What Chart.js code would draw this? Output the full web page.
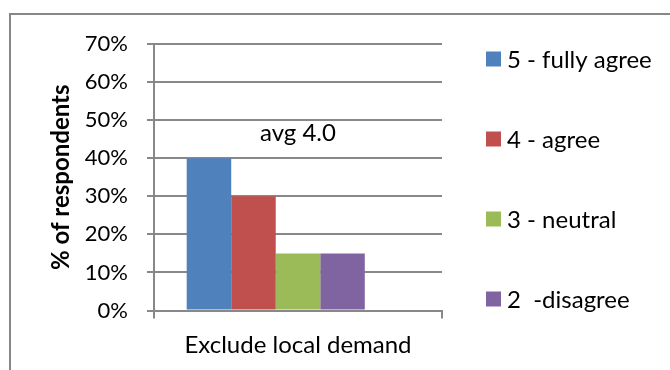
<!DOCTYPE html>
<html>
<head>
<meta charset="utf-8">
<script src="https://cdn.jsdelivr.net/npm/chart.js@4/dist/chart.umd.min.js"></script>
<style>
  html, body { margin: 0; padding: 0; background: #fff; }
  #wrap { position: relative; width: 670px; height: 370px; overflow: hidden; }
  #frame {
    position: absolute; left: 9px; top: 13px; width: 720px; height: 420px;
    border: 2px solid #878787; box-sizing: border-box;
  }
  #chart { position: absolute; left: 0; top: 0; }
</style>
</head>
<body>
<div id="wrap">
  <div id="frame"></div>
  <canvas id="chart" width="670" height="370"></canvas>
</div>
<script>
const categories = ['Exclude local demand'];
const seriesLabels = ['5 - fully agree', '4 - agree', '3 - neutral', '2  -disagree', '1 - fully disagree'];
const scores = [5, 4, 3, 2, 1];
const sharePct = [40, 30, 15, 15, 0];
const seriesColors = ['#4F81BD', '#C0504D', '#9BBB59', '#8064A2', '#4BACC6'];
const yTicks = [0, 10, 20, 30, 40, 50, 60, 70];

const FONT = 'Lato, "Open Sans", sans-serif';
const TICK_SIZE = 22;
const TEXT_SIZE = 24;
const GRID = '#888888';

// weighted average score, shown above the bars
let weighted = 0;
let total = 0;
for (let i = 0; i < scores.length; i++) {
  weighted += scores[i] * sharePct[i];
  total += sharePct[i];
}
const avgText = `avg ${(weighted / total).toFixed(1)}`;
const avgLevel = 46.5; // height (in %) where the label sits

const datasets = seriesLabels.map((label, i) => ({
  label,
  data: [sharePct[i]],
  backgroundColor: seriesColors[i],
  borderWidth: 0,
  categoryPercentage: 0.773,
  barPercentage: 1,
}));

// average label + legend drawn on top of the chart
const extras = {
  id: 'extras',
  afterDraw(chart) {
    const { ctx, scales } = chart;
    ctx.save();
    ctx.font = `${TEXT_SIZE}px ${FONT}`;
    ctx.fillStyle = '#000';
    ctx.textBaseline = 'middle';
    ctx.textAlign = 'center';
    ctx.fillText(avgText, scales.x.getPixelForValue(0), scales.y.getPixelForValue(avgLevel));

    ctx.textAlign = 'left';
    chart.data.datasets.forEach((ds, i) => {
      const y = 59 + i * 80;
      ctx.fillStyle = ds.backgroundColor;
      ctx.fillRect(486, y - 7.5, 15, 15);
      ctx.fillStyle = '#000';
      ctx.fillText(ds.label, 507, y + 1);
    });
    ctx.restore();
  },
};

const canvas = document.querySelector('#chart');
// eslint-disable-next-line no-undef
new Chart(canvas.getContext('2d'), {
  type: 'bar',
  data: { labels: categories, datasets },
  options: {
    responsive: false,
    animation: false,
    layout: { padding: { left: 0, top: 44, right: 228, bottom: 0 } },
    plugins: { legend: { display: false }, tooltip: { enabled: false } },
    scales: {
      x: {
        grid: {
          offset: true,
          drawOnChartArea: false,
          drawTicks: true,
          tickLength: 8,
          color: GRID,
          lineWidth: 2,
        },
        border: { display: true, color: GRID, width: 2 },
        ticks: { color: '#000', padding: 12, font: { family: FONT, size: TEXT_SIZE } },
        afterFit(scale) {
          scale.height = 59.5;
        },
      },
      y: {
        min: yTicks[0],
        max: yTicks[yTicks.length - 1],
        afterBuildTicks(scale) {
          scale.ticks = yTicks.map((v) => ({ value: v }));
        },
        grid: { color: GRID, lineWidth: 2, tickLength: 7 },
        border: { display: true, color: GRID, width: 2 },
        ticks: {
          color: '#000',
          padding: 19,
          font: { family: FONT, size: TICK_SIZE },
          callback: (v) => `${v}%`,
        },
        title: {
          display: true,
          text: '% of respondents',
          color: '#000',
          font: { family: FONT, size: TEXT_SIZE, weight: 'bold' },
          padding: { top: 46.5, bottom: 0 },
        },
        afterFit(scale) {
          scale.width = 154;
        },
      },
    },
  },
  plugins: [extras],
});
</script>
</body>
</html>
